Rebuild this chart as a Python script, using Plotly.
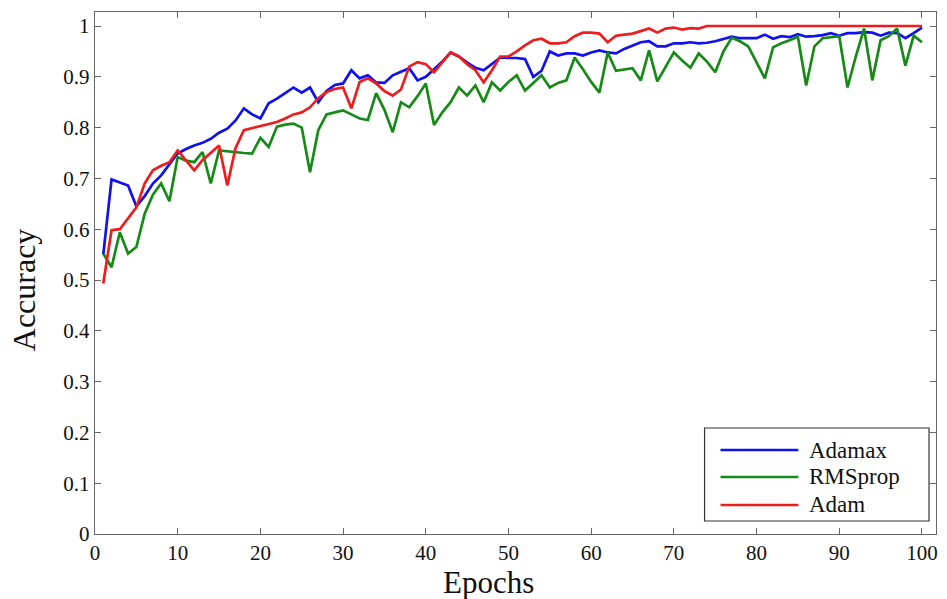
import plotly.graph_objects as go

# Training accuracy per epoch for three optimizers
epochs = list(range(1, 101))

adamax = [
    0.550, 0.698, 0.692, 0.686, 0.645, 0.665, 0.690, 0.706, 0.728, 0.749,
    0.758, 0.765, 0.770, 0.778, 0.790, 0.798, 0.814, 0.838, 0.826, 0.818,
    0.848, 0.857, 0.868, 0.879, 0.869, 0.879, 0.850, 0.872, 0.884, 0.887,
    0.913, 0.897, 0.903, 0.889, 0.888, 0.903, 0.910, 0.917, 0.893, 0.900,
    0.915, 0.930, 0.948, 0.940, 0.928, 0.918, 0.913, 0.925, 0.938, 0.937,
    0.937, 0.935, 0.900, 0.912, 0.950, 0.942, 0.946, 0.946, 0.942, 0.948,
    0.952, 0.948, 0.946, 0.955, 0.962, 0.968, 0.970, 0.960, 0.960, 0.966,
    0.966, 0.968, 0.966, 0.967, 0.970, 0.975, 0.979, 0.976, 0.976, 0.976,
    0.983, 0.975, 0.980, 0.978, 0.984, 0.979, 0.980, 0.982, 0.986, 0.981,
    0.986, 0.986, 0.988, 0.987, 0.981, 0.987, 0.986, 0.976, 0.986, 0.997,
]

rmsprop = [
    0.552, 0.525, 0.594, 0.552, 0.565, 0.630, 0.668, 0.690, 0.655, 0.742,
    0.735, 0.732, 0.752, 0.690, 0.755, 0.753, 0.751, 0.750, 0.749, 0.780,
    0.762, 0.802, 0.806, 0.808, 0.800, 0.712, 0.795, 0.826, 0.830, 0.834,
    0.826, 0.818, 0.815, 0.868, 0.835, 0.791, 0.850, 0.840, 0.862, 0.887,
    0.805, 0.830, 0.850, 0.879, 0.863, 0.883, 0.850, 0.889, 0.873, 0.890,
    0.903, 0.873, 0.888, 0.903, 0.879, 0.888, 0.893, 0.938, 0.915, 0.890,
    0.869, 0.948, 0.912, 0.915, 0.917, 0.893, 0.952, 0.891, 0.920, 0.948,
    0.932, 0.918, 0.946, 0.930, 0.909, 0.950, 0.977, 0.970, 0.960, 0.930,
    0.897, 0.958, 0.966, 0.972, 0.979, 0.883, 0.960, 0.976, 0.978, 0.980,
    0.879, 0.940, 0.995, 0.893, 0.972, 0.980, 0.995, 0.922, 0.981, 0.968,
]

adam = [
    0.493, 0.598, 0.600, 0.621, 0.643, 0.690, 0.716, 0.725, 0.732, 0.755,
    0.735, 0.716, 0.736, 0.751, 0.765, 0.686, 0.760, 0.795, 0.799, 0.803,
    0.807, 0.811, 0.818, 0.826, 0.830, 0.840, 0.858, 0.870, 0.876, 0.879,
    0.838, 0.890, 0.897, 0.887, 0.872, 0.863, 0.875, 0.920, 0.929, 0.925,
    0.909, 0.929, 0.948, 0.940, 0.925, 0.913, 0.889, 0.913, 0.940, 0.940,
    0.950, 0.962, 0.972, 0.975, 0.966, 0.966, 0.968, 0.980, 0.987, 0.987,
    0.985, 0.968, 0.981, 0.983, 0.985, 0.990, 0.995, 0.987, 0.995, 0.997,
    0.993, 0.996, 0.995, 1.000, 1.000, 1.000, 1.000, 1.000, 1.000, 1.000,
    1.000, 1.000, 1.000, 1.000, 1.000, 1.000, 1.000, 1.000, 1.000, 1.000,
    1.000, 1.000, 1.000, 1.000, 1.000, 1.000, 1.000, 1.000, 1.000, 1.000,
]

series_names = ["Adamax", "RMSprop", "Adam"]
series_values = [adamax, rmsprop, adam]
series_colors = ["#1010f0", "#168a16", "#ee1c1c"]

x_ticks = list(range(0, 101, 10))
y_ticks = [round(i * 0.1, 1) for i in range(11)]
y_tick_text = ["0", "0.1", "0.2", "0.3", "0.4", "0.5", "0.6", "0.7", "0.8", "0.9", "1"]

FONT = "Liberation Serif, Times New Roman, serif"

fig = go.Figure()
for name, vals, color in zip(series_names, series_values, series_colors):
    fig.add_trace(go.Scatter(
        x=epochs, y=vals, mode="lines", name=name,
        line=dict(color=color, width=2.7), showlegend=False,
    ))

# Boxed legend in the lower right corner
legend_x0, legend_x1 = 0.7248, 0.9917
legend_y0, legend_y1 = 0.0249, 0.2031
row_y = [0.1609, 0.1092, 0.0556]
fig.add_shape(type="rect", xref="paper", yref="paper",
              x0=legend_x0, x1=legend_x1, y0=legend_y0, y1=legend_y1,
              line=dict(color="#333333", width=1.2), fillcolor="white", layer="above")
for name, color, yy in zip(series_names, series_colors, row_y):
    fig.add_shape(type="line", xref="paper", yref="paper",
                  x0=0.7438, x1=0.8363, y0=yy, y1=yy,
                  line=dict(color=color, width=2.7), layer="above")
    fig.add_annotation(xref="paper", yref="paper", x=0.8470, y=yy,
                       xanchor="left", yanchor="middle", text=name,
                       showarrow=False, font=dict(family=FONT, size=23, color="#111111"))

# Axis titles
fig.add_annotation(xref="paper", yref="paper", x=0.4674, y=-0.0575,
                   xanchor="center", yanchor="top", text="Epochs", showarrow=False,
                   borderpad=0, font=dict(family=FONT, size=31, color="#111111"))
fig.add_annotation(xref="paper", yref="paper", x=-0.0842, y=0.4674,
                   xanchor="center", yanchor="middle", text="Accuracy", showarrow=False,
                   textangle=-90, font=dict(family=FONT, size=32, color="#111111"))

axis_common = dict(
    showline=True, linecolor="#666666", linewidth=1.4, mirror="ticks",
    ticks="inside", ticklen=6, tickcolor="#666666", tickwidth=1.2,
    showgrid=False, zeroline=False,
    tickfont=dict(family=FONT, size=21, color="#111111"),
)

fig.update_layout(
    width=947, height=599,
    margin=dict(l=95, r=9, t=12, b=65),
    paper_bgcolor="white", plot_bgcolor="white",
    xaxis=dict(range=[0, 101.7], tickvals=x_ticks, **axis_common),
    yaxis=dict(range=[0, 1.0276], tickvals=y_ticks, ticktext=y_tick_text, **axis_common),
)

fig.write_html("out.html")
